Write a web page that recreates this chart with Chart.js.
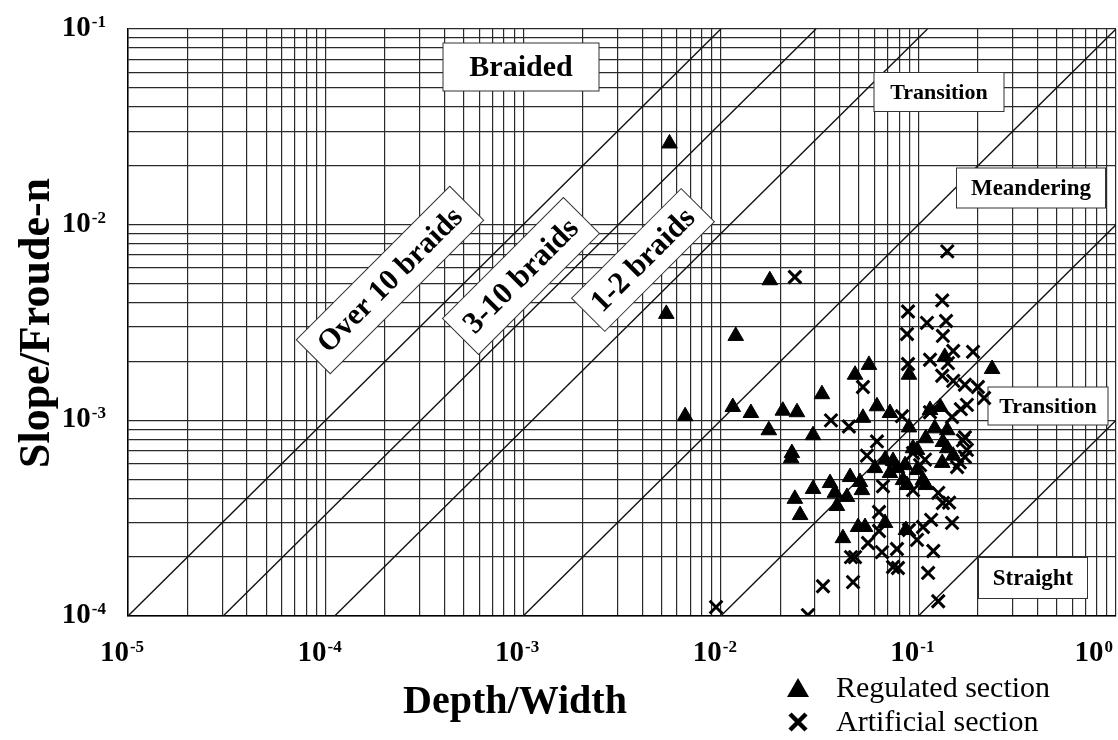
<!DOCTYPE html>
<html>
<head>
<meta charset="utf-8">
<title>River channel pattern: Depth/Width vs Slope/Froude-n</title>
<script src="https://cdn.jsdelivr.net/npm/chart.js@4.4.0/dist/chart.umd.min.js"></script>
<style>
  html, body { margin: 0; padding: 0; background: #fff; }
  #chart { display: block; }
</style>
</head>
<body>
<canvas id="chart" width="1118" height="740"></canvas>
<script>
'use strict';

// Data

// Regulated section (triangles)
const regulatedX = [
  0.0055, 0.0053, 0.0066, 0.0177, 0.0119, 0.0115, 0.0142, 0.0175, 0.0206, 0.0243,
  0.0229, 0.0227, 0.0325, 0.0293, 0.0478, 0.0562, 0.0617, 0.0524, 0.0718, 0.0896,
  0.0678, 0.0744, 0.0603, 0.0718, 0.0357, 0.0451, 0.0506, 0.0435, 0.0293, 0.0237,
  0.0252, 0.0378, 0.0387, 0.0518, 0.0415, 0.0495, 0.0537, 0.0678, 0.0865, 0.109,
  0.0856, 0.0984, 0.0836, 0.1055, 0.0876, 0.109, 0.121, 0.129, 0.1145, 0.133,
  0.140, 0.150, 0.132, 0.0984, 0.136, 0.0896, 0.236, 0.0939, 0.0779, 0.140
];
const regulatedY = [
  0.026, 0.0035, 0.00105, 0.0052, 0.0027, 0.00117, 0.00109, 0.00089, 0.00112, 0.0011,
  0.00068, 0.00064, 0.00136, 0.00084, 0.00171, 0.00192, 0.00118, 0.00103, 0.00109, 0.00092,
  0.00063, 0.00062, 0.00057, 0.000538, 0.000478, 0.000513, 0.000484, 0.000406, 0.000446, 0.000397,
  0.000328, 0.000426, 0.000365, 0.00044, 0.00025, 0.000285, 0.000285, 0.000299, 0.000275, 0.000467,
  0.00059, 0.000557, 0.000495, 0.000495, 0.000467, 0.00081, 0.00091, 0.00117, 0.00113, 0.000775,
  0.00072, 0.00066, 0.000606, 0.000706, 0.00211, 0.00171, 0.00183, 0.00072, 0.00057, 0.00089
];

// Artificial section (crosses)
const artificialX = [
  0.0237, 0.140, 0.132, 0.0886, 0.1105, 0.138, 0.0876, 0.133, 0.150, 0.189,
  0.1145, 0.141, 0.0886, 0.132, 0.150, 0.172, 0.200, 0.215, 0.0524, 0.0361,
  0.0445, 0.0617, 0.0549, 0.0826, 0.1145, 0.148, 0.164, 0.176, 0.168, 0.176,
  0.162, 0.157, 0.102, 0.126, 0.0662, 0.0939, 0.172, 0.172, 0.108, 0.00946,
  0.0276, 0.0329, 0.0467, 0.0456, 0.0478, 0.0556, 0.0632, 0.0632, 0.0654, 0.0779,
  0.0744, 0.0788, 0.0896, 0.0984, 0.1055, 0.116, 0.148, 0.119, 0.112, 0.126,
  0.0939, 0.133, 0.143
];
const artificialY = [
  0.0054, 0.0073, 0.0041, 0.0036, 0.00315, 0.00322, 0.00276, 0.0027, 0.00226, 0.00224,
  0.00204, 0.00196, 0.00194, 0.00169, 0.00159, 0.00152, 0.00148, 0.0013, 0.00148, 0.001,
  0.00093, 0.00078, 0.00066, 0.00105, 0.0011, 0.00104, 0.00114, 0.0012, 0.00079, 0.000706,
  0.00061, 0.000577, 0.00059, 0.000426, 0.00046, 0.00068, 0.00082, 0.00065, 0.00063, 0.000111,
  0.000101, 0.000142, 0.000149, 0.0002, 0.0002, 0.000236, 0.00034, 0.000272, 0.000212, 0.00022,
  0.000178, 0.000176, 0.000275, 0.000245, 0.000285, 0.00031, 0.000299, 0.000215, 0.000166, 0.000119,
  0.00044, 0.000378, 0.00038
];

// Class boundaries: Slope/Froude-n = ratio * Depth/Width
const boundaryRatios = [10, 3.3, 0.9, 0.1, 0.01, 0.001];

// Axes
const xRange = [1e-5, 1];
const yRange = [1e-4, 1e-1];
const xTickPowers = [-5, -4, -3, -2, -1, 0];
const yTickPowers = [-4, -3, -2, -1];
const gridSteps = [1, 2, 3, 4, 5, 6, 7, 8, 9];

const xTitle = 'Depth/Width';
const yTitle = 'Slope/Froude-n';
const seriesNames = ['Regulated section', 'Artificial section'];
const regionNames = ['Braided', 'Transition', 'Meandering', 'Transition', 'Straight',
  'Over 10 braids', '3-10 braids', '1-2 braids'];

// Where the region boxes sit (pixels), same order as regionNames
const regionBoxes = [
  {cx: 521, cy: 67, w: 156, h: 48, size: 30, angle: 0},
  {cx: 939, cy: 92, w: 130, h: 39, size: 22, angle: 0},
  {cx: 1031, cy: 188, w: 149, h: 40, size: 23, angle: 0},
  {cx: 1048, cy: 406, w: 120, h: 38, size: 22, angle: 0},
  {cx: 1033, cy: 578, w: 109, h: 41, size: 23, angle: 0},
  {cx: 390, cy: 280, w: 217, h: 48, size: 30, angle: -45},
  {cx: 521, cy: 276, w: 171, h: 51, size: 31, angle: -45},
  {cx: 643, cy: 260, w: 155, h: 47, size: 31, angle: -45}
];

const FONT = "'Times New Roman', 'Liberation Serif', serif";

// Build the chart data

function toPoints(xs, ys) {
  let pts = [];
  for (let i = 0; i < xs.length; i++) {
    pts.push({x: xs[i], y: ys[i]});
  }
  return pts;
}

function boundaryLine(ratio) {
  // straight line in log-log, cut to the plot range
  let x0 = Math.max(xRange[0], yRange[0] / ratio);
  let x1 = Math.min(xRange[1], yRange[1] / ratio);
  return {
    data: [{x: x0, y: ratio * x0}, {x: x1, y: ratio * x1}],
    showLine: true,
    borderColor: '#111',
    borderWidth: 1.4,
    pointRadius: 0,
    fill: false
  };
}

function gridTicks(powers) {
  let ticks = [];
  for (let i = 0; i < powers.length; i++) {
    let last = i === powers.length - 1;
    let steps = last ? [1] : gridSteps;
    for (let s of steps) {
      ticks.push({value: s * Math.pow(10, powers[i])});
    }
  }
  return ticks;
}

// Drawing helpers

function powerLabel(ctx, exponent, x, baseline, align) {
  ctx.font = 'bold 29px ' + FONT;
  let wBase = ctx.measureText('10').width;
  ctx.font = 'bold 17px ' + FONT;
  let sup = String(exponent);
  let wSup = ctx.measureText(sup).width;
  let total = wBase + 1 + wSup;
  let left = align === 'right' ? x - total : x - total / 2;
  if (left + total > 1113) left = 1113 - total;
  ctx.textAlign = 'left';
  ctx.textBaseline = 'alphabetic';
  ctx.fillStyle = '#000';
  ctx.font = 'bold 29px ' + FONT;
  ctx.fillText('10', left, baseline);
  ctx.font = 'bold 17px ' + FONT;
  ctx.fillText(sup, left + wBase + 1, baseline - 9);
}

function drawBox(ctx, text, b) {
  ctx.save();
  ctx.translate(b.cx, b.cy);
  ctx.rotate(b.angle * Math.PI / 180);
  ctx.fillStyle = '#fff';
  ctx.fillRect(-b.w / 2, -b.h / 2, b.w, b.h);
  ctx.strokeStyle = '#333';
  ctx.lineWidth = 1;
  ctx.strokeRect(-b.w / 2, -b.h / 2, b.w, b.h);
  ctx.fillStyle = '#000';
  ctx.font = 'bold ' + b.size + 'px ' + FONT;
  ctx.textAlign = 'center';
  ctx.textBaseline = 'middle';
  ctx.fillText(text, 0, 1);
  ctx.restore();
}

// Boxes go on top of the boundary lines but under the points
const regionPlugin = {
  id: 'regions',
  afterDatasetDraw(chart, args) {
    if (args.index !== 2) return;
    let ctx = chart.ctx;
    ctx.save();
    for (let i = 0; i < regionNames.length; i++) {
      drawBox(ctx, regionNames[i], regionBoxes[i]);
    }
    ctx.restore();
  }
};

// Tick labels with superscripts, axis titles and the legend
const textPlugin = {
  id: 'texts',
  afterDraw(chart) {
    let ctx = chart.ctx;
    let xs = chart.scales.x;
    let ys = chart.scales.y;
    ctx.save();

    for (let p of yTickPowers) {
      let py = ys.getPixelForValue(Math.pow(10, p));
      powerLabel(ctx, p, 106, py + 7, 'right');
    }
    for (let p of xTickPowers) {
      let px = xs.getPixelForValue(Math.pow(10, p));
      powerLabel(ctx, p, px - 6, 661, 'center');
    }

    // axis titles
    ctx.fillStyle = '#000';
    ctx.font = 'bold 40px ' + FONT;
    ctx.textAlign = 'center';
    ctx.textBaseline = 'alphabetic';
    ctx.fillText(xTitle, 515, 713);

    ctx.save();
    ctx.translate(49, 323);
    ctx.rotate(-Math.PI / 2);
    ctx.font = 'bold 44px ' + FONT;
    ctx.fillText(yTitle, 0, 0);
    ctx.restore();

    // legend
    ctx.fillStyle = '#000';
    ctx.beginPath();
    ctx.moveTo(787, 697);
    ctx.lineTo(809, 697);
    ctx.lineTo(798, 678);
    ctx.closePath();
    ctx.fill();

    ctx.strokeStyle = '#000';
    ctx.lineWidth = 4.5;
    ctx.beginPath();
    ctx.moveTo(790, 714);
    ctx.lineTo(806, 730);
    ctx.moveTo(806, 714);
    ctx.lineTo(790, 730);
    ctx.stroke();

    ctx.font = '30px ' + FONT;
    ctx.textAlign = 'left';
    ctx.fillText(seriesNames[0], 836, 697);
    ctx.fillText(seriesNames[1], 836, 731);

    ctx.restore();
  }
};

const gridStyle = {
  color: '#2a2a2a',
  lineWidth: 1.2,
  drawTicks: false
};

let datasets = [
  {
    label: seriesNames[0],
    data: toPoints(regulatedX, regulatedY),
    pointStyle: 'triangle',
    pointRadius: 9,
    backgroundColor: '#000',
    borderColor: '#000',
    borderWidth: 1
  },
  {
    label: seriesNames[1],
    data: toPoints(artificialX, artificialY),
    pointStyle: 'crossRot',
    pointRadius: 9,
    backgroundColor: '#000',
    borderColor: '#000',
    borderWidth: 3
  }
];
for (let r of boundaryRatios) {
  datasets.push(boundaryLine(r));
}

let chartEl = document.getElementById('chart');
let patternChart = new Chart(chartEl.getContext('2d'), {
  type: 'scatter',
  data: {datasets: datasets},
  options: {
    responsive: false,
    animation: false,
    layout: {autoPadding: false, padding: {left: 128, top: 29, right: 2, bottom: 124}},
    plugins: {
      legend: {display: false},
      tooltip: {enabled: false}
    },
    scales: {
      x: {
        type: 'logarithmic',
        min: xRange[0],
        max: xRange[1],
        afterBuildTicks: (scale) => { scale.ticks = gridTicks(xTickPowers); },
        ticks: {display: false, autoSkip: false},
        grid: gridStyle,
        border: {color: '#000', width: 1.5}
      },
      y: {
        type: 'logarithmic',
        min: yRange[0],
        max: yRange[1],
        afterBuildTicks: (scale) => { scale.ticks = gridTicks(yTickPowers); },
        ticks: {display: false, autoSkip: false},
        grid: gridStyle,
        border: {color: '#000', width: 1.5}
      }
    }
  },
  plugins: [regionPlugin, textPlugin]
});
</script>
</body>
</html>
